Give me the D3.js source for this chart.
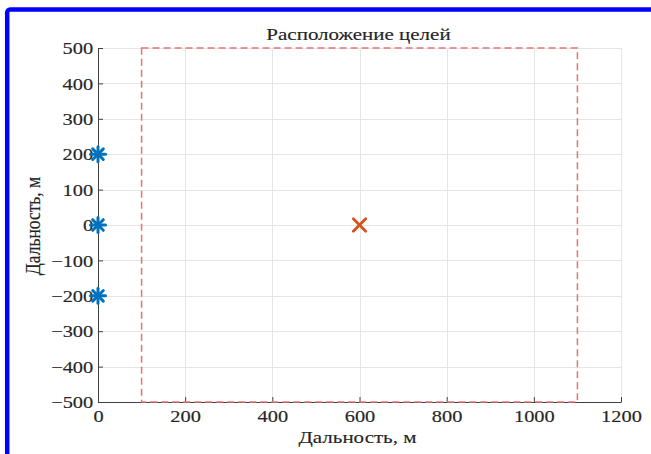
<!DOCTYPE html>
<html>
<head>
<meta charset="utf-8">
<script src="https://cdn.jsdelivr.net/npm/d3@7"></script>
<style>
  html, body { margin: 0; padding: 0; background: #ffffff; }
  svg { display: block; }
  text { font-family: "Liberation Serif", "DejaVu Serif", serif; fill: #262626; }
</style>
</head>
<body>
<svg id="chart" width="651" height="454"></svg>
<script>
// ---- data ----
const xTicks = [0, 200, 400, 600, 800, 1000, 1200];
const yTicks = [-500, -400, -300, -200, -100, 0, 100, 200, 300, 400, 500];
const radarX = [0, 0, 0];
const radarY = [200, 0, -200];
const targetX = [600];
const targetY = [0];
const zoneX = [100, 1100];
const zoneY = [-500, 500];
const titleText = "Расположение целей";
const xLabel = "Дальность, м";
const yLabel = "Дальность, м";

// ---- layout ----
const plotL = 98, plotR = 621, plotT = 48, plotB = 402;
const stretch = 1.2;

const svg = d3.select("#chart");

// blue frame
svg.append("rect")
  .attr("x", 7.2).attr("y", 9.5)
  .attr("width", 800).attr("height", 600)
  .attr("rx", 3)
  .attr("fill", "none")
  .attr("stroke", "#0000ff")
  .attr("stroke-width", 4.5);

const x = d3.scaleLinear().domain([0, 1200]).range([plotL, plotR]);
const y = d3.scaleLinear().domain([-500, 500]).range([plotB, plotT]);

// grid
const grid = svg.append("g").attr("stroke", "#e5e5e5").attr("stroke-width", 1);
grid.selectAll("line.gx").data(xTicks).join("line").attr("class", "gx")
  .attr("x1", d => Math.round(x(d)) + 0.5).attr("x2", d => Math.round(x(d)) + 0.5)
  .attr("y1", plotT).attr("y2", plotB);
grid.selectAll("line.gy").data(yTicks).join("line").attr("class", "gy")
  .attr("y1", d => Math.round(y(d)) + 0.5).attr("y2", d => Math.round(y(d)) + 0.5)
  .attr("x1", plotL).attr("x2", plotR);

// axes
const xAxis = d3.axisBottom(x).tickValues(xTicks).tickSizeInner(-5).tickSizeOuter(0).tickPadding(8)
  .tickFormat(d => String(d));
const yAxis = d3.axisLeft(y).tickValues(yTicks).tickSizeInner(-5).tickSizeOuter(0).tickPadding(4)
  .tickFormat(d => (d < 0 ? "\u2212" + Math.abs(d) : String(d)));

const gx = svg.append("g").attr("transform", `translate(0,${plotB})`).call(xAxis);
const gy = svg.append("g").attr("transform", `translate(${plotL},0)`).call(yAxis);
[gx, gy].forEach(g => {
  g.select(".domain").attr("stroke", "#404040");
  g.selectAll(".tick line").attr("stroke", "#404040");
  g.selectAll(".tick text")
    .attr("font-family", "Liberation Serif, serif")
    .attr("font-size", 17)
    .attr("fill", "#262626")
    .attr("stroke", "#262626")
    .attr("stroke-width", 0.15);
});
gx.selectAll(".tick text").attr("transform", `scale(${stretch},1)`);
gy.selectAll(".tick text").attr("transform", `scale(${stretch},1)`).attr("dy", "0.33em");

// dashed zone rectangle
svg.append("rect")
  .attr("x", x(zoneX[0])).attr("y", y(zoneY[1]))
  .attr("width", x(zoneX[1]) - x(zoneX[0]))
  .attr("height", y(zoneY[0]) - y(zoneY[1]))
  .attr("fill", "none")
  .attr("stroke", "#e27575")
  .attr("stroke-width", 1.5)
  .attr("stroke-dasharray", "7,4");

// radar markers (asterisk)
const starR = 7.5;
const stars = svg.append("g").attr("stroke", "#0072BD").attr("stroke-width", 3).attr("stroke-linecap", "round");
radarX.forEach((vx, i) => {
  const cx = x(vx), cy = y(radarY[i]);
  const g = stars.append("g").attr("transform", `translate(${cx},${cy})`);
  [0, 45, 90, 135].forEach(a => {
    const r = a * Math.PI / 180;
    g.append("line")
      .attr("x1", -starR * Math.cos(r)).attr("y1", -starR * Math.sin(r))
      .attr("x2", starR * Math.cos(r)).attr("y2", starR * Math.sin(r));
  });
});

// target markers (x)
const crossR = 6.2;
const crosses = svg.append("g").attr("stroke", "#D95319").attr("stroke-width", 2.8).attr("stroke-linecap", "round");
targetX.forEach((vx, i) => {
  const cx = x(vx), cy = y(targetY[i]);
  const g = crosses.append("g").attr("transform", `translate(${cx},${cy})`);
  g.append("line").attr("x1", -crossR).attr("y1", -crossR).attr("x2", crossR).attr("y2", crossR);
  g.append("line").attr("x1", -crossR).attr("y1", crossR).attr("x2", crossR).attr("y2", -crossR);
});

// title and labels
const labelStyle = sel => sel
  .attr("text-anchor", "middle")
  .attr("font-size", 17.5)
  .attr("fill", "#1a1a1a")
  .attr("stroke", "#1a1a1a")
  .attr("stroke-width", 0.15);

svg.append("text")
  .attr("transform", `translate(${(plotL + plotR) / 2 - 1},40) scale(${stretch},1)`)
  .call(labelStyle)
  .text(titleText);

svg.append("text")
  .attr("transform", `translate(${(plotL + plotR) / 2 - 2},443) scale(${stretch},1)`)
  .call(labelStyle)
  .text(xLabel);

svg.append("text")
  .attr("transform", `translate(40,226) scale(${stretch},1) rotate(-90)`)
  .call(labelStyle)
  .text(yLabel);
</script>
</body>
</html>
